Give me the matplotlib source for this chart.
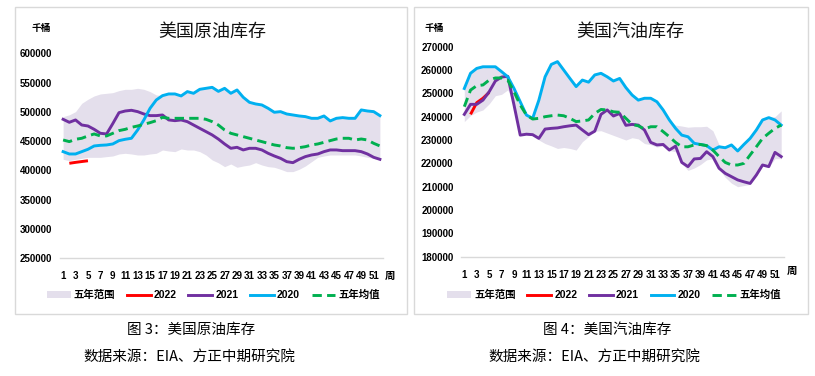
import matplotlib
matplotlib.use("Agg")
import matplotlib.pyplot as plt
from matplotlib.patches import Rectangle, Patch
from matplotlib.lines import Line2D

plt.rcParams['font.family'] = ['Liberation Sans', 'Noto Sans CJK SC']

weeks = list(range(1, 53))
week_labels = [str(w) for w in range(1, 52, 2)]
weeks_2022 = [2, 3, 4, 5]

# ---------------- crude oil (thousand barrels) ----------------
crude_2020 = [432100, 428100, 428100, 432100, 436100, 441800, 442900, 443500, 445200, 450900,
              453200, 454900, 469100, 486200, 506100, 520300, 527700, 530600, 530600, 527200,
              534600, 531700, 538500, 540200, 541900, 535000, 540200, 531700, 537400, 524900,
              516300, 513500, 511800, 506100, 499300, 500400, 496400, 494700, 493000, 491900,
              489000, 489000, 493000, 484500, 489000, 490200, 489000, 489000, 503300, 501500,
              500400, 493600]
crude_2021 = [487300, 482200, 486200, 477600, 475900, 470200, 463400, 462300, 480000, 498700,
              501500, 502700, 500400, 496400, 493600, 493600, 494700, 486200, 485000, 486200,
              483300, 477600, 471900, 466300, 460600, 453500, 445200, 437800, 439500, 435000,
              437800, 437800, 435000, 429300, 424700, 420700, 415000, 413300, 419000, 423600,
              426400, 428100, 432100, 435000, 435000, 433800, 433800, 433800, 432100, 428100,
              422400, 419000]
crude_2022 = [412200, 413800, 415200, 416500]
crude_avg = [452000, 449200, 453200, 454900, 458900, 462300, 458900, 458900, 463400, 468000,
             470200, 473600, 475900, 478800, 481600, 485000, 490700, 489000, 489000, 489000,
             489000, 489000, 489000, 487300, 483300, 477500, 469100, 463400, 460600, 457700,
             454900, 452000, 449200, 446300, 443500, 441800, 438900, 437800, 438900, 440600,
             443500, 445200, 448000, 450900, 453700, 454900, 454900, 452000, 453700, 452000,
             446300, 441800]
crude_lo = [419000, 416700, 419000, 420700, 422400, 422400, 422400, 423600, 424700, 428100,
            429300, 428100, 426400, 426400, 428100, 429300, 434900, 433200, 432100, 436700,
            434900, 434900, 432100, 426400, 417900, 413000, 406500, 411000, 405400, 407600,
            409300, 413300, 409300, 406500, 405400, 402000, 398000, 398000, 402000, 407600,
            415000, 422400, 424700, 426400, 426400, 426400, 426400, 426400, 424700, 422400,
            420700, 417900]
crude_hi = [491900, 495000, 500400, 514600, 521500, 527200, 530600, 531700, 532800, 536300,
            538500, 538500, 540200, 538500, 534600, 528900, 527700, 530600, 530600, 527200,
            534600, 531700, 538500, 540200, 541900, 535000, 540200, 531700, 537400, 524900,
            516300, 513500, 511800, 506100, 499300, 500400, 496400, 494700, 493000, 491900,
            489000, 489000, 493000, 484500, 489000, 490200, 489000, 489000, 503300, 501500,
            500400, 493600]
crude_yticks = [250000, 300000, 350000, 400000, 450000, 500000, 550000, 600000]

# ---------------- gasoline (thousand barrels) ----------------
gas_2020 = [252100, 258600, 260700, 261400, 261400, 261400, 259300, 257100, 252100, 246400,
            240700, 239300, 247100, 257100, 262400, 263600, 260000, 256400, 252900, 255700,
            254800, 257900, 258600, 257100, 255300, 256400, 252500, 249300, 247100, 247900,
            247900, 246400, 242900, 238600, 235000, 232100, 231400, 228600, 228100, 227600,
            225700, 227100, 226700, 227900, 225300, 228100, 230700, 234300, 238600, 239600,
            238600, 236400]
gas_2021 = [241000, 245300, 245300, 247100, 250700, 255300, 257000, 257300, 245000, 232100,
            232500, 232300, 230700, 234700, 235000, 235200, 235700, 236100, 236400, 234300,
            232300, 233800, 241000, 242900, 240300, 241400, 236300, 236700, 236400, 234300,
            229000, 227900, 228100, 225700, 227400, 220400, 218600, 221900, 222100, 225000,
            222900, 217900, 215700, 214300, 212900, 212100, 211400, 215000, 219300, 218600,
            224700, 222900]
gas_2022 = [241000, 246000, 247900, 250400]
gas_avg = [244300, 251400, 253300, 253600, 255700, 256600, 256600, 255700, 250700, 245000,
           240700, 239000, 239300, 240000, 240400, 240700, 240400, 239300, 237900, 238200,
           238600, 241400, 243100, 242900, 242100, 241900, 239300, 236700, 236100, 234700,
           235700, 235700, 233600, 231400, 229000, 227100, 227100, 227900, 228100, 227600,
           225700, 222900, 220400, 219300, 219300, 220000, 223600, 227100, 230700, 232900,
           235000, 236400]
gas_lo = [237900, 240500, 242000, 242900, 245500, 249000, 249600, 251500, 245000, 232100,
          232500, 232300, 230000, 228500, 227500, 226400, 226800, 226400, 225700, 229300,
          231500, 233800, 234000, 233000, 232000, 231000, 230000, 231000, 230500, 228500,
          228000, 227000, 227500, 225500, 225000, 220000, 217000, 218000, 219500, 221500,
          222000, 217500, 214000, 211500, 210000, 210500, 211000, 214500, 219000, 218500,
          222000, 222000]
gas_hi = [252100, 258600, 260700, 261400, 261400, 261400, 259300, 257300, 252100, 246400,
          240700, 239300, 247100, 257100, 262400, 263600, 260000, 256400, 252900, 255700,
          254800, 257900, 258600, 257100, 255300, 256400, 252500, 249300, 247100, 247900,
          247900, 246400, 242900, 238600, 236400, 236000, 235500, 235700, 235700, 235900,
          234000, 228000, 226700, 227900, 225300, 228100, 230700, 234300, 238600, 239600,
          240000, 242500]
gas_yticks = [180000, 190000, 200000, 210000, 220000, 230000, 240000, 250000, 260000, 270000]

legend_labels = ['五年范围', '2022', '2021', '2020', '五年均值']

BAND = '#E4DFEC'
RED = '#FF0000'
PURPLE = '#7030A0'
BLUE = '#00B0F0'
GREEN = '#00B050'

W, H = 815, 376
fig = plt.figure(figsize=(W / 100, H / 100), dpi=100)


def fx(px):
    return px / W


def fy(py):
    return 1 - py / H


# panel borders
for x0, x1 in [(15, 407), (414, 808)]:
    fig.patches.append(Rectangle((fx(x0), fy(314)), fx(x1 - x0), (314 - 7) / H,
                                 transform=fig.transFigure, fill=False,
                                 ec='#D9D9D9', lw=1.0))


def draw(left_px, right_px, top_px, bottom_px, lo, hi, v22, v21, v20, avg, yticks,
         title, title_x, unit_x, zhou_xy, legend_x, caption, caption_x, source_x):
    ax = fig.add_axes([fx(left_px), fy(bottom_px), fx(right_px - left_px),
                       (bottom_px - top_px) / H])
    ax.fill_between(weeks, lo, hi, color=BAND, lw=0)
    ax.plot(weeks_2022, v22, color=RED, lw=2.1, solid_capstyle='butt')
    ax.plot(weeks, v21, color=PURPLE, lw=2.1)
    ax.plot(weeks, v20, color=BLUE, lw=2.1)
    ax.plot(weeks, avg, color=GREEN, lw=2.1, dashes=(3.2, 1.8))
    ax.set_xlim(0.5, 52.5)
    ax.set_ylim(yticks[0], yticks[-1])
    ax.set_yticks(yticks)
    ax.set_yticklabels([str(v) for v in yticks], fontsize=7, fontweight='bold')
    ax.set_xticks(weeks[::2])
    ax.set_xticklabels(week_labels, fontsize=7, fontweight='bold')
    ax.tick_params(axis='x', length=0, pad=9.5)
    ax.tick_params(axis='y', length=0, pad=5.5)
    for s in ['top', 'right', 'left']:
        ax.spines[s].set_visible(False)
    ax.spines['bottom'].set_color('#D9D9D9')
    ax.spines['bottom'].set_linewidth(1.0)
    ax.set_facecolor('none')

    fig.text(fx(title_x), fy(32), title, fontsize=13, family='Noto Sans CJK SC',
             ha='center', va='center', color='#111111')
    fig.text(fx(unit_x), fy(28), '千桶', fontsize=7, fontweight='bold',
             family='Noto Sans CJK SC', ha='center', va='center')
    fig.text(fx(zhou_xy[0]), fy(zhou_xy[1]), '周', fontsize=7.5, fontweight='bold',
             family='Noto Sans CJK SC', ha='center', va='center')

    handles = [Patch(facecolor=BAND, edgecolor='none'),
               Line2D([], [], color=RED, lw=2.1),
               Line2D([], [], color=PURPLE, lw=2.1),
               Line2D([], [], color=BLUE, lw=2.1),
               Line2D([], [], color=GREEN, lw=2.1, dashes=(3.2, 1.8))]
    fig.legend(handles, legend_labels, loc='center', ncol=5,
               bbox_to_anchor=(fx(legend_x), fy(295)), frameon=False,
               prop={'weight': 'bold', 'size': 7.5},
               handlelength=2.3, handletextpad=0.3, columnspacing=1.1,
               borderpad=0, borderaxespad=0)

    fig.text(fx(caption_x), fy(330), caption, fontsize=10.5, family='Noto Sans CJK SC',
             ha='center', va='center')
    fig.text(fx(source_x), fy(357), '数据来源：EIA、方正中期研究院', fontsize=10.5,
             family='Noto Sans CJK SC', ha='center', va='center')
    return ax


draw(60, 383, 53.3, 258.3, crude_lo, crude_hi, crude_2022, crude_2021, crude_2020,
     crude_avg, crude_yticks, '美国原油库存', 212, 41, (390, 276), 213.5,
     '图 3：美国原油库存', 191, 189)
draw(461.2, 784.3, 46.7, 256.7, gas_lo, gas_hi, gas_2022, gas_2021, gas_2020,
     gas_avg, gas_yticks, '美国汽油库存', 630, 434.5, (792, 271), 614,
     '图 4：美国汽油库存', 607.5, 594)

fig.savefig('out.png', dpi=100, facecolor='white')
